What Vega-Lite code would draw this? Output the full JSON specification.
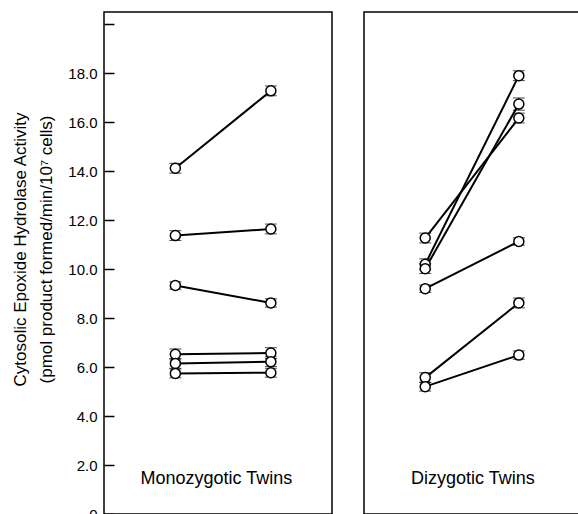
{
  "$schema": "https://vega.github.io/schema/vega-lite/v6.json",
  "padding": {"left": 11, "top": 11, "right": 0, "bottom": 0},
  "background": "white",
  "spacing": 30,
  "config": {
    "font": "Liberation Sans",
    "view": {"stroke": "black", "strokeWidth": 1.5}
  },
  "datasets": {
    "mz": [
      {"pair": 1, "t": 1, "v": 14.12, "e": 0.2},
      {"pair": 1, "t": 2, "v": 17.28, "e": 0.2},
      {"pair": 2, "t": 1, "v": 11.37, "e": 0.2},
      {"pair": 2, "t": 2, "v": 11.64, "e": 0.2},
      {"pair": 3, "t": 1, "v": 9.33, "e": 0.15},
      {"pair": 3, "t": 2, "v": 8.62, "e": 0.17},
      {"pair": 4, "t": 1, "v": 6.52, "e": 0.22},
      {"pair": 4, "t": 2, "v": 6.57, "e": 0.22},
      {"pair": 5, "t": 1, "v": 6.15, "e": 0.2},
      {"pair": 5, "t": 2, "v": 6.22, "e": 0.2},
      {"pair": 6, "t": 1, "v": 5.74, "e": 0.18},
      {"pair": 6, "t": 2, "v": 5.77, "e": 0.18}
    ],
    "dz": [
      {"pair": 1, "t": 1, "v": 11.27, "e": 0.2},
      {"pair": 1, "t": 2, "v": 16.17, "e": 0.2},
      {"pair": 2, "t": 1, "v": 10.2, "e": 0.22},
      {"pair": 2, "t": 2, "v": 17.9, "e": 0.2},
      {"pair": 3, "t": 1, "v": 10.02, "e": 0.2},
      {"pair": 3, "t": 2, "v": 16.74, "e": 0.25},
      {"pair": 4, "t": 1, "v": 9.2, "e": 0.15},
      {"pair": 4, "t": 2, "v": 11.13, "e": 0.15},
      {"pair": 5, "t": 1, "v": 5.57, "e": 0.2},
      {"pair": 5, "t": 2, "v": 8.62, "e": 0.2},
      {"pair": 6, "t": 1, "v": 5.2, "e": 0.18},
      {"pair": 6, "t": 2, "v": 6.49, "e": 0.17}
    ],
    "mzlabel": [{"label": "Monozygotic Twins", "x": 1.43, "y": 1.43}],
    "dzlabel": [{"label": "Dizygotic Twins", "x": 1.51, "y": 1.43}]
  },
  "resolve": {"scale": {"x": "independent", "y": "independent"}},
  "hconcat": [
    {
      "width": 228,
      "height": 502,
      "encoding": {
        "x": {"field": "t", "type": "quantitative", "scale": {"domain": [0.253, 2.64]}, "axis": null},
        "y": {
          "field": "v", "type": "quantitative",
          "scale": {"domain": [0, 20.5], "nice": false},
          "title": ["Cytosolic Epoxide Hydrolase Activity", "(pmol product formed/min/10⁷ cells)"],
          "axis": {
            "titleFontSize": 17, "titleFontWeight": "normal", "titleColor": "black",
            "titleLineHeight": 26, "titlePadding": 12, "titleLimit": 600, "titleY": 237,
            "values": [0, 2, 4, 6, 8, 10, 12, 14, 16, 18, 20],
            "labelExpr": "datum.value == 20 ? '' : datum.value == 0 ? '0' : format(datum.value, '.1f')",
            "labelFontSize": 15, "labelColor": "black",
            "tickSize": -10, "tickColor": "black", "tickWidth": 1.5,
            "labelPadding": 17, "domain": false, "grid": false
          }
        }
      },
      "layer": [
        {
          "data": {"name": "mz"},
          "mark": {"type": "line", "color": "black", "strokeWidth": 2},
          "encoding": {
            "detail": {"field": "pair", "type": "nominal"}
          }
        },
        {
          "data": {"name": "mz"},
          "mark": {"type": "errorbar", "ticks": {"size": 12, "color": "black", "strokeWidth": 1.5}, "color": "black"},
          "encoding": {
            "yError": {"field": "e"}
          }
        },
        {
          "data": {"name": "mz"},
          "mark": {"type": "point", "shape": "circle", "size": 100, "filled": false, "fill": "white", "fillOpacity": 1, "stroke": "black", "strokeWidth": 1.5, "opacity": 1},
          "encoding": {}
        },
        {
          "data": {"name": "mzlabel"},
          "mark": {"type": "text", "fontSize": 18, "color": "black", "baseline": "middle", "align": "center"},
          "encoding": {
            "x": {"field": "x", "type": "quantitative"},
            "y": {"field": "y", "type": "quantitative"},
            "text": {"field": "label"}
          }
        }
      ]
    },
    {
      "width": 230,
      "height": 502,
      "encoding": {
        "x": {"field": "t", "type": "quantitative", "scale": {"domain": [0.346, 2.803]}, "axis": null},
        "y": {"field": "v", "type": "quantitative", "scale": {"domain": [0, 20.5], "nice": false}, "axis": null}
      },
      "layer": [
        {
          "data": {"name": "dz"},
          "mark": {"type": "line", "color": "black", "strokeWidth": 2},
          "encoding": {
            "detail": {"field": "pair", "type": "nominal"}
          }
        },
        {
          "data": {"name": "dz"},
          "mark": {"type": "errorbar", "ticks": {"size": 12, "color": "black", "strokeWidth": 1.5}, "color": "black"},
          "encoding": {
            "yError": {"field": "e"}
          }
        },
        {
          "data": {"name": "dz"},
          "mark": {"type": "point", "shape": "circle", "size": 100, "filled": false, "fill": "white", "fillOpacity": 1, "stroke": "black", "strokeWidth": 1.5, "opacity": 1},
          "encoding": {}
        },
        {
          "data": {"name": "dzlabel"},
          "mark": {"type": "text", "fontSize": 18, "color": "black", "baseline": "middle", "align": "center"},
          "encoding": {
            "x": {"field": "x", "type": "quantitative"},
            "y": {"field": "y", "type": "quantitative"},
            "text": {"field": "label"}
          }
        }
      ]
    }
  ]
}
